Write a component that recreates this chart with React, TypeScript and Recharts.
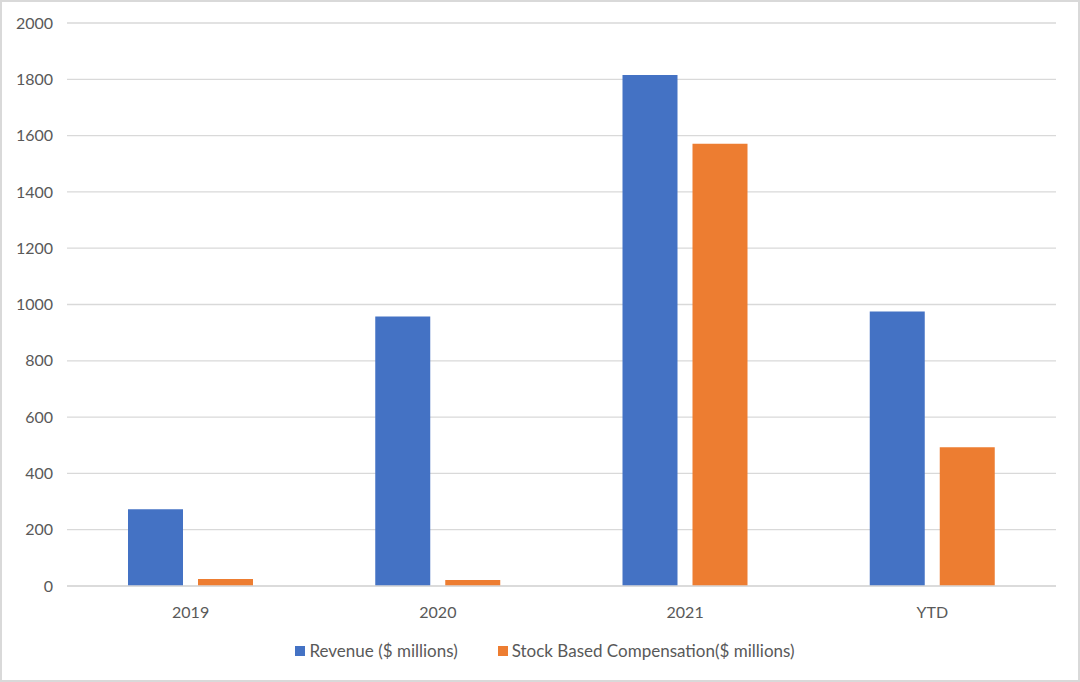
import React from 'react';
import {
  BarChart,
  Bar,
  XAxis,
  YAxis,
  CartesianGrid,
  Legend,
} from 'recharts';

const categories = ['2019', '2020', '2021', 'YTD'];
const revenue = [273, 957, 1815, 975];
const stockComp = [25, 21, 1571, 493];
const yTicks = [0, 200, 400, 600, 800, 1000, 1200, 1400, 1600, 1800, 2000];

const data = categories.map((name, i) => ({
  name,
  revenue: revenue[i],
  stockComp: stockComp[i],
}));

const textColor = '#595959';
const gridColor = '#d9d9d9';
const font = 'Lato, "Open Sans", sans-serif';

const renderLegend = (props: any) => {
  const { payload } = props;
  return (
    <div
      style={{
        display: 'flex',
        justifyContent: 'center',
        alignItems: 'center',
        paddingLeft: 10,
        fontFamily: font,
        fontSize: 17,
        color: textColor,
      }}
    >
      {payload.map((entry: any, idx: number) => (
        <div
          key={`legend-${idx}`}
          style={{
            display: 'flex',
            alignItems: 'center',
            marginLeft: idx > 0 ? 40 : 0,
          }}
        >
          <span
            style={{
              display: 'inline-block',
              width: 10,
              height: 10,
              background: entry.color,
              marginRight: 4,
            }}
          />
          <span>{entry.value}</span>
        </div>
      ))}
    </div>
  );
};

export default function App() {
  return (
    <div
      style={{
        position: 'absolute',
        top: 0,
        left: 0,
        width: 1076,
        height: 678,
        border: `2px solid ${gridColor}`,
        background: '#fff',
        fontFamily: font,
      }}
    >
      <BarChart
        width={1076}
        height={678}
        data={data}
        margin={{ top: 21, right: 22, bottom: 21, left: 0 }}
        barGap={15}
        barSize={55}
      >
        <CartesianGrid vertical={false} stroke={gridColor} strokeWidth={1.3} />
        <XAxis
          dataKey="name"
          height={52}
          axisLine={{ stroke: gridColor, strokeWidth: 1.3 }}
          tickLine={false}
          tickSize={0}
          tickMargin={21}
          tick={{ fill: textColor, fontSize: 16, fontFamily: font }}
        />
        <YAxis
          width={65}
          domain={[0, 2000]}
          ticks={yTicks}
          axisLine={false}
          tickLine={false}
          tickSize={0}
          tickMargin={14}
          tick={{ fill: textColor, fontSize: 16, fontFamily: font }}
        />
        <Legend
          verticalAlign="bottom"
          content={renderLegend}
          wrapperStyle={{ left: 0, width: 1076, top: 638, bottom: 'auto' }}
        />
        <Bar
          dataKey="revenue"
          name="Revenue ($ millions)"
          fill="#4472c4"
          isAnimationActive={false}
        />
        <Bar
          dataKey="stockComp"
          name="Stock Based Compensation($ millions)"
          fill="#ed7d31"
          isAnimationActive={false}
        />
      </BarChart>
    </div>
  );
}
